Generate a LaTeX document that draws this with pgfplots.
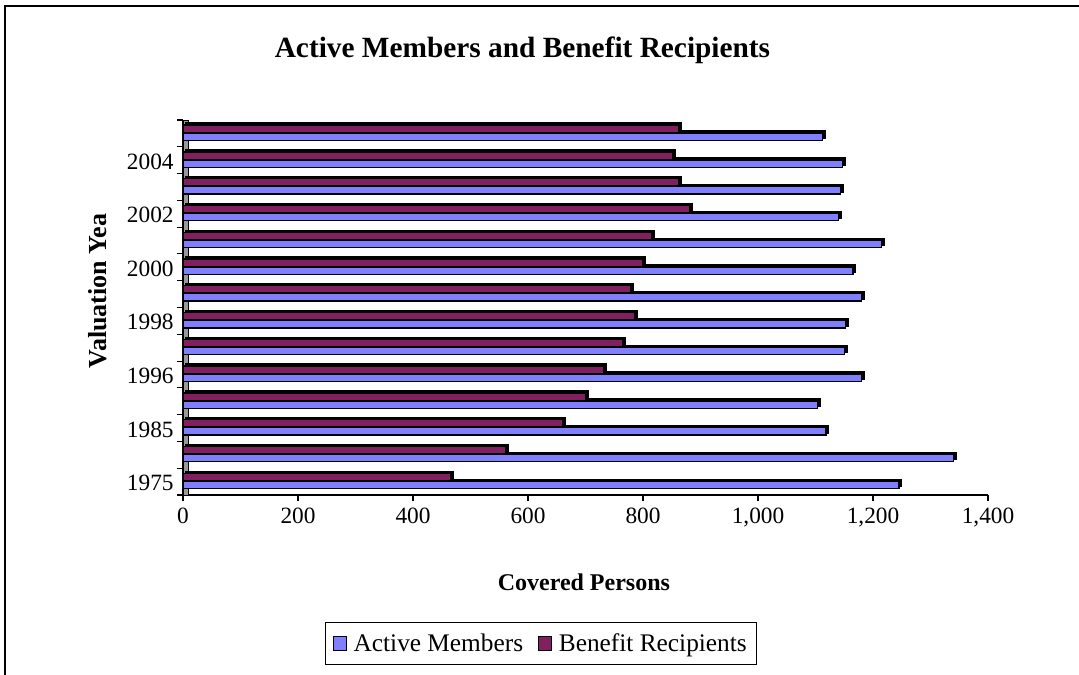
\documentclass[border=0pt]{standalone}
\usepackage{fontspec}
\setmainfont{Liberation Serif}
\usepackage{pgfplots}
\pgfplotsset{compat=1.18}
\definecolor{activec}{RGB}{128,128,255}
\definecolor{benefc}{RGB}{128,32,96}
\begin{document}
\begin{tikzpicture}
\useasboundingbox (-137.25pt,-135pt) rectangle (672pt,371.25pt);
\draw[line width=1pt] (-133.5pt,-135pt) -- (-133.5pt,366.75pt) -- (672pt,366.75pt);
\node[font=\bfseries\fontsize{22}{22}\selectfont] at (254.6pt,333.75pt) {Active Members and Benefit Recipients};
\node[font=\bfseries\fontsize{19.5}{19.5}\selectfont, rotate=90] at (-63.75pt,153pt) {Valuation Yea};
\begin{axis}[
  at={(0,0)}, anchor=south west, scale only axis,
  width=603.75pt, height=281.25pt,
  xbar, bar width=5.5pt,
  xmin=0, xmax=1400, ymin=-0.5, ymax=13.5,
  axis x line*=bottom, axis y line*=left, axis line style={-, line width=0.8pt},
  xtick={0,200,...,1400},
  /pgf/number format/1000 sep={,},
  /pgf/number format/assume math mode=true,
  tick align=outside,
  major tick length=4.5pt, minor tick length=4.5pt,
  ytick={0,...,13},
  yticklabels={1975,,1985,,1996,,1998,,2000,,2002,,2004,},
  minor ytick={-0.5,0.5,...,13.5},
  major y tick style={draw=none},
  minor y tick style={black, line width=0.8pt},
  major x tick style={black, line width=0.8pt},
  ticklabel style={font=\fontsize{17.5}{17.5}\selectfont},
  yticklabel style={yshift=-1pt, xshift=1pt},
  xticklabel style={yshift=-2pt},
  xlabel={\textbf{Covered Persons}},
  xlabel style={font=\fontsize{18}{18}\selectfont, at={(axis description cs:0.498,-0.232)}, anchor=center},
  legend style={at={(0.4447,-0.396)}, anchor=center, legend columns=2,
    draw=black, line width=0.8pt, font=\fontsize{19}{19}\selectfont,
    inner xsep=5pt, inner ysep=6pt,
    /tikz/every odd column/.append style={column sep=3pt},
    /tikz/every even column/.append style={column sep=9pt}},
  legend image code/.code={\draw[#1, line width=0.8pt] (0pt,-5pt) rectangle (10pt,5pt);},
]
\draw[fill=gray!80, draw=black, line width=0.4pt] (axis cs:0,-0.5) rectangle ([xshift=4pt]axis cs:0,13.5);
\addlegendimage{fill=activec, draw=black}
\addlegendentry{Active Members}
\addlegendimage{fill=benefc, draw=black}
\addlegendentry{Benefit Recipients}
\addplot[forget plot, fill=activec, draw=black, line width=1pt, bar shift=-2.5pt,
  preaction={fill=black, draw=black, transform canvas={shift={(2pt,1.5pt)}}}]
  coordinates {(1245,0) (1340,1) (1118,2) (1103,3) (1180,4) (1150,5) (1152,6)
               (1180,7) (1165,8) (1215,9) (1140,10) (1143,11) (1147,12) (1112,13)};
\addplot[forget plot, fill=benefc, draw=black, line width=1pt, bar shift=3.5pt,
  preaction={fill=black, draw=black, transform canvas={shift={(2pt,1.5pt)}}}]
  coordinates {(465,0) (562,1) (660,2) (700,3) (732,4) (765,5) (785,6)
               (778,7) (800,8) (815,9) (882,10) (862,11) (852,12) (862,13)};
\end{axis}
\end{tikzpicture}
\end{document}
